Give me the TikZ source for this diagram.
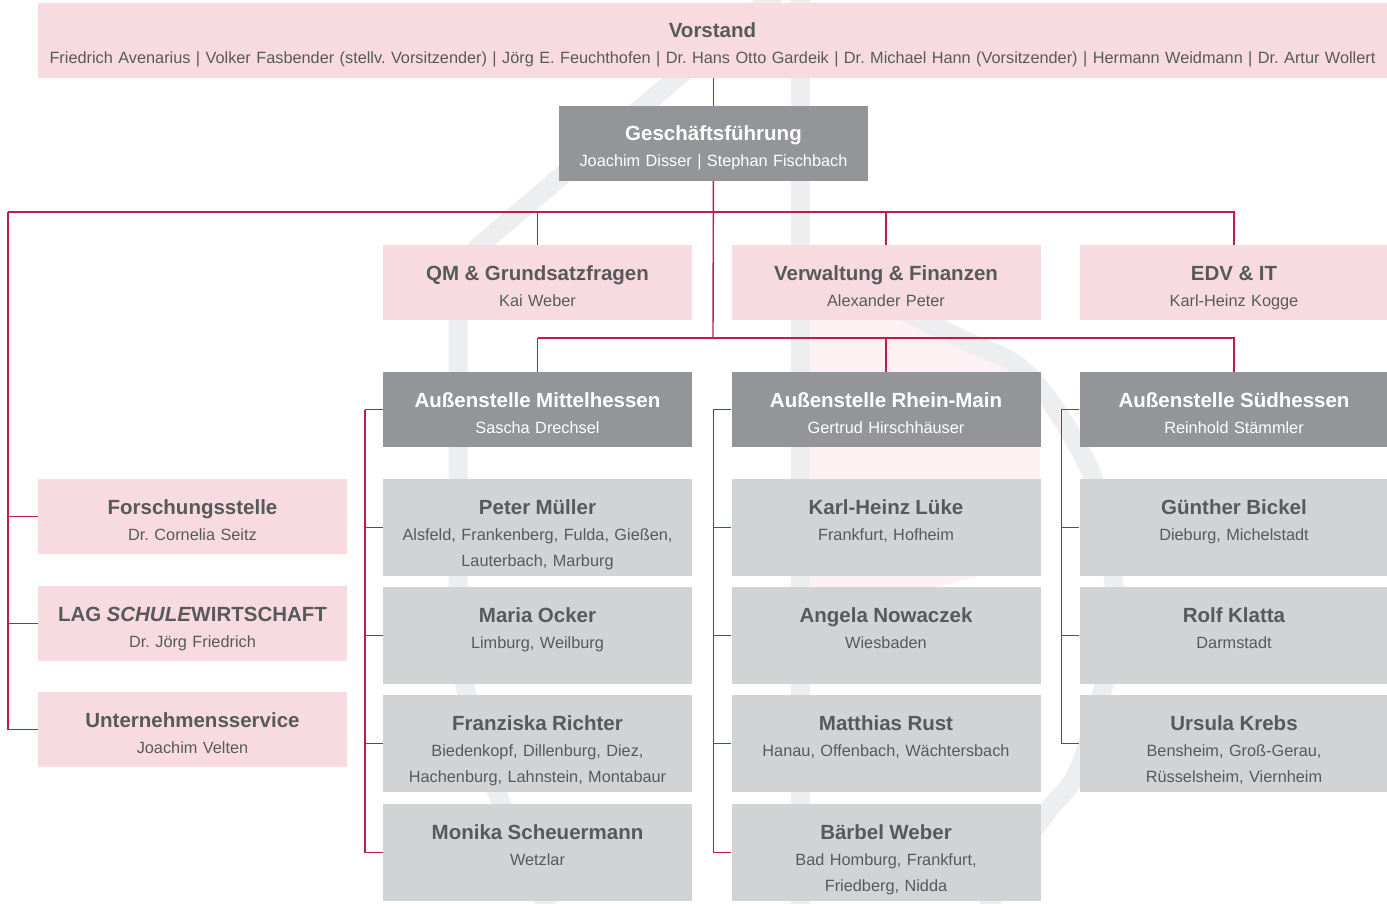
\documentclass[tikz,border=0pt]{standalone}
\usepackage{fontspec}
\setmainfont{Liberation Sans}
\definecolor{boxpink}{HTML}{F8DBE1}
\definecolor{boxdark}{HTML}{939598}
\definecolor{boxlight}{HTML}{D1D3D4}
\definecolor{textgray}{HTML}{58595B}
\definecolor{linkred}{HTML}{C41A4A}
\definecolor{wmgray}{HTML}{EDEEF0}
\definecolor{wmpink}{HTML}{FDF1F4}
\newcommand{\unitname}[1]{{\fontsize{20.5}{26}\selectfont\bfseries #1}}
\frenchspacing
\begin{document}
\begin{tikzpicture}[x=1pt,y=-1pt,
	box/.style={rectangle,inner sep=0pt,text width=309pt,align=center,text height=35pt,text depth=40pt,font=\fontsize{16.3}{26}\selectfont},
	pinkbox/.style={box,fill=boxpink,text=textgray},
	darkbox/.style={box,fill=boxdark,text=white},
	lightbox/.style={box,fill=boxlight,text=textgray,text depth=62pt},
	link/.style={draw=linkred,line width=1.4pt}]
	\useasboundingbox (0,0) rectangle (1387,904);
	% logo in the background
	\fill[wmpink] (809,268) -- (955,336) -- (1025,372) -- (1040,400) -- (1040,560) -- (809,620) -- cycle;
	\begin{scope}[draw=wmgray,line width=19pt]
		\draw[rounded corners=30pt] (780,-10) -- (458,264) -- (458,590) .. controls (458,700) and (495,800) .. (550,912);
		\draw (800,-10) -- (800,904);
		\draw plot[smooth,tension=0.6] coordinates {(800,262) (955,336) (1025,372) (1080,450) (1105,520) (1115,620) (1100,700) (1077,773) (1050,808) (1020,850) (985,912)};
	\end{scope}
	% boards
	\node[pinkbox,text width=1349pt] (vorstand) at (712.5,40.5) {\unitname{Vorstand}\\Friedrich Avenarius | Volker Fasbender (stellv. Vorsitzender) | Jörg E. Feuchthofen | Dr. Hans Otto Gardeik | Dr. Michael Hann (Vorsitzender) | Hermann Weidmann | Dr. Artur Wollert};
	\node[darkbox] (gf) at (713.5,143.5) {\unitname{Geschäftsführung}\\Joachim Disser | Stephan Fischbach};
	% staff units
	\node[pinkbox] (qm) at (537.5,282.5) {\unitname{QM \& Grundsatzfragen}\\Kai Weber};
	\node[pinkbox] (vf) at (886,282.5) {\unitname{Verwaltung \& Finanzen}\\Alexander Peter};
	\node[pinkbox] (edv) at (1234,282.5) {\unitname{EDV \& IT}\\Karl-Heinz Kogge};
	\node[pinkbox] (forsch) at (192.5,516.5) {\unitname{Forschungsstelle}\\Dr. Cornelia Seitz};
	\node[pinkbox] (lag) at (192.5,623.5) {\unitname{LAG \textit{SCHULE}WIRTSCHAFT}\\Dr. Jörg Friedrich};
	\node[pinkbox] (us) at (192.5,729.5) {\unitname{Unternehmensservice}\\Joachim Velten};
	% branches
	\node[darkbox] (mh) at (537.5,409.5) {\unitname{Außenstelle Mittelhessen}\\Sascha Drechsel};
	\node[darkbox] (rm) at (886,409.5) {\unitname{Außenstelle Rhein-Main}\\Gertrud Hirschhäuser};
	\node[darkbox] (sh) at (1234,409.5) {\unitname{Außenstelle Südhessen}\\Reinhold Stämmler};
	\node[lightbox] (pm) at (537.5,527.5) {\unitname{Peter Müller}\\Alsfeld, Frankenberg, Fulda, Gießen,\\Lauterbach, Marburg};
	\node[lightbox] (mo) at (537.5,635.5) {\unitname{Maria Ocker}\\Limburg, Weilburg};
	\node[lightbox] (fr) at (537.5,743.5) {\unitname{Franziska Richter}\\Biedenkopf, Dillenburg, Diez,\\Hachenburg, Lahnstein, Montabaur};
	\node[lightbox] (ms) at (537.5,852.5) {\unitname{Monika Scheuermann}\\Wetzlar};
	\node[lightbox] (kl) at (886,527.5) {\unitname{Karl-Heinz Lüke}\\Frankfurt, Hofheim};
	\node[lightbox] (an) at (886,635.5) {\unitname{Angela Nowaczek}\\Wiesbaden};
	\node[lightbox] (mr) at (886,743.5) {\unitname{Matthias Rust}\\Hanau, Offenbach, Wächtersbach};
	\node[lightbox] (bw) at (886,852.5) {\unitname{Bärbel Weber}\\Bad Homburg, Frankfurt,\\Friedberg, Nidda};
	\node[lightbox] (gb) at (1234,527.5) {\unitname{Günther Bickel}\\Dieburg, Michelstadt};
	\node[lightbox] (rk) at (1234,635.5) {\unitname{Rolf Klatta}\\Darmstadt};
	\node[lightbox] (uk) at (1234,743.5) {\unitname{Ursula Krebs}\\Bensheim, Groß-Gerau,\\Rüsselsheim, Viernheim};
	% connections
	\coordinate (bar1) at (713,212);
	\coordinate (bar2) at (713,338);
	\coordinate (left) at (8,212);
	\draw[link] (vorstand.south -| gf) -- (gf);
	\draw[link] (gf) -- (bar2);
	\draw[link] (left) -- (bar1 -| edv) -- (edv);
	\draw[link] (bar1 -| qm) -- (qm);
	\draw[link] (bar1 -| vf) -- (vf);
	\draw[link] (bar2 -| mh) -- (bar2 -| sh) -- (sh);
	\draw[link] (bar2 -| mh) -- (mh);
	\draw[link] (bar2 -| rm) -- (rm);
	\draw[link] (left) |- (us);
	\foreach \n in {forsch,lag} \draw[link] (left |- \n) -- (\n);
	\foreach \h/\list in {mh/{pm,mo,fr,ms},rm/{kl,an,mr,bw},sh/{gb,rk,uk}} {
		\draw[link] (\h.west) -- ++(-18,0);
		\foreach \n in \list
			\draw[link] ([xshift=-18pt]\h.west) |- (\n.west);
	}
\end{tikzpicture}
\end{document}
